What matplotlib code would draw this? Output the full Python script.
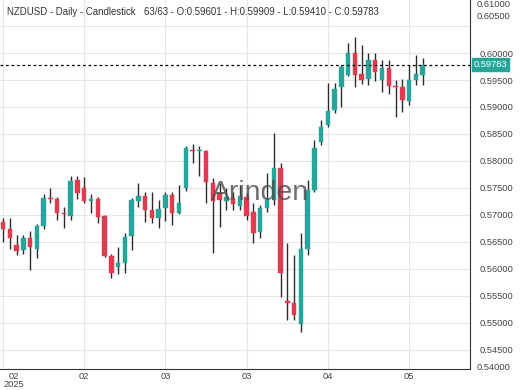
import matplotlib
matplotlib.use("Agg")
import matplotlib.pyplot as plt
import matplotlib.transforms as mtransforms
import numpy as np

plt.rcParams['font.family'] = ['Liberation Sans', 'DejaVu Sans']

opens = [0.56876, 0.56735, 0.56444, 0.56352, 0.56569, 0.56376, 0.56796, 0.57320, 0.57302, 0.57043,
         0.56982, 0.57639, 0.57495, 0.57265, 0.57296, 0.56976, 0.56241, 0.56043, 0.56117, 0.56611,
         0.57265, 0.57357, 0.57087, 0.56939, 0.57124, 0.57370, 0.57032, 0.57495, 0.58204, 0.58180,
         0.58191, 0.57598, 0.57413, 0.57265, 0.57309, 0.57167, 0.57328, 0.57061, 0.56691, 0.57124,
         0.57278, 0.57865, 0.55413, 0.55365, 0.54981, 0.56365, 0.57463, 0.58357, 0.58667, 0.58944,
         0.59365, 0.59593, 0.60006, 0.59606, 0.59513, 0.59870, 0.59500, 0.59717, 0.59376, 0.59365,
         0.59117, 0.59500, 0.59601]
highs = [0.56944, 0.56939, 0.56630, 0.56630, 0.56709, 0.56833, 0.57389, 0.57495, 0.57339, 0.57154,
         0.57722, 0.57717, 0.57709, 0.57389, 0.57339, 0.57000, 0.56278, 0.56413, 0.56661, 0.57309,
         0.57598, 0.57432, 0.57432, 0.57278, 0.57432, 0.57432, 0.57556, 0.58278, 0.58315, 0.58278,
         0.58204, 0.57685, 0.57593, 0.57495, 0.57432, 0.57556, 0.57402, 0.57217, 0.57185, 0.57783,
         0.58524, 0.57957, 0.56476, 0.56259, 0.56672, 0.57648, 0.58389, 0.58759, 0.59439, 0.59439,
         0.59778, 0.60191, 0.60291, 0.60148, 0.60006, 0.60006, 0.59870, 0.59870, 0.59500, 0.59513,
         0.59778, 0.59963, 0.59909]
lows = [0.56506, 0.56365, 0.56259, 0.56278, 0.55981, 0.56198, 0.56735, 0.57217, 0.56908, 0.56754,
        0.56908, 0.57291, 0.57217, 0.57032, 0.56846, 0.56217, 0.55828, 0.55907, 0.55931, 0.56352,
        0.57143, 0.56876, 0.56846, 0.56754, 0.56895, 0.56815, 0.57019, 0.57450, 0.57957, 0.57722,
        0.57217, 0.56291, 0.56772, 0.57093, 0.57093, 0.57093, 0.56908, 0.56476, 0.56569, 0.57061,
        0.57185, 0.55487, 0.55056, 0.55056, 0.54839, 0.56259, 0.57432, 0.58296, 0.58635, 0.58894,
        0.58994, 0.59574, 0.59365, 0.59420, 0.59407, 0.59487, 0.59272, 0.59241, 0.58809, 0.58913,
        0.59037, 0.59407, 0.59410]
closes = [0.56735, 0.56569, 0.56339, 0.56569, 0.56413, 0.56796, 0.57309, 0.57302, 0.57043, 0.57013,
          0.57635, 0.57402, 0.57259, 0.57296, 0.56957, 0.56241, 0.55920, 0.56117, 0.56598, 0.57278,
          0.57352, 0.57093, 0.56939, 0.57117, 0.57370, 0.57032, 0.57228, 0.58235, 0.58185, 0.58191,
          0.57606, 0.57265, 0.57278, 0.57339, 0.57198, 0.57352, 0.56982, 0.56672, 0.57124, 0.57278,
          0.57865, 0.55931, 0.55365, 0.55148, 0.56365, 0.57463, 0.58235, 0.58635, 0.58931, 0.59328,
          0.59746, 0.60006, 0.59593, 0.59500, 0.59870, 0.59643, 0.59717, 0.59389, 0.59365, 0.59130,
          0.59500, 0.59606, 0.59783]

x_tick_idx = [0, 12, 24, 36, 48, 60]
x_tick_labels = ["02\n2025", "02", "03", "03", "04", "05"]
y_ticks = [0.545, 0.550, 0.555, 0.560, 0.565, 0.570, 0.575, 0.580, 0.585, 0.590, 0.595, 0.600]

title_left = "NZDUSD - Daily - Candlestick"
title_right = "63/63 - O:0.59601 - H:0.59909 - L:0.59410 - C:0.59783"

GREEN = '#26a69a'
RED = '#e5394d'
WICK = '#2b2b2b'

fig = plt.figure(figsize=(5.2, 3.9), dpi=100)
ax = fig.add_axes([0.0, 21/390, 470/520, 369/390])

o = np.array(opens); h = np.array(highs); l = np.array(lows); c = np.array(closes)
x = np.arange(len(o))
up = c >= o
colors = np.where(up, GREEN, RED)

ax.vlines(x, l, h, color=WICK, linewidth=1.0, zorder=2)
bottoms = np.minimum(o, c)
heights = np.maximum(np.abs(c - o), 0.00018)
ax.bar(x, heights, bottom=bottoms, width=0.66, color=colors, edgecolor=colors, linewidth=0.3, zorder=3)

ax.set_xlim(-0.45, 69.0)
ax.set_ylim(0.541481, 0.609815)

# grid
for yv in y_ticks + [0.605]:
    ax.axhline(yv, color='#e6e6e6', linewidth=0.8, zorder=0)
for xi in x_tick_idx:
    ax.axvline(xi, color='#e6e6e6', linewidth=0.8, zorder=0)

# last price dashed line
ax.axhline(closes[-1], color='black', linestyle=(0, (2.2, 2.2)), linewidth=0.9, zorder=4)

ax.spines['top'].set_visible(False)
ax.spines['left'].set_visible(False)
ax.spines['right'].set_color('#333333')
ax.spines['bottom'].set_color('#333333')

ax.yaxis.tick_right()
ax.set_yticks(y_ticks)
ax.set_yticklabels([f"{v:.5f}" for v in y_ticks])
ax.tick_params(axis='y', length=0, pad=7, labelsize=6.7, labelcolor='#444444')
ax.set_xticks(x_tick_idx)
ax.set_xticklabels(x_tick_labels)
ax.tick_params(axis='x', length=0, pad=2, labelsize=6.7, labelcolor='#444444')
first = ax.get_xticklabels()[0]
first.set_horizontalalignment('left')
first.set_multialignment('center')
for lab in ax.get_xticklabels():
    lab.set_linespacing(0.9)

# edge-clamped labels
trans = mtransforms.blended_transform_factory(ax.transAxes, ax.transAxes)
ax.text(1.0 + 7/470, 1 - 4.5/369, "0.61000", transform=trans, ha='left', va='center', fontsize=6.7,
        color='#444444', clip_on=False)
ax.text(1.0 + 7/470, 1 - 16.2/369, "0.60500", transform=trans, ha='left', va='center', fontsize=6.7,
        color='#444444', clip_on=False)
ax.text(1.0 + 7/470, 2/369, "0.54000", transform=trans, ha='left', va='center', fontsize=6.7,
        color='#444444', clip_on=False)

# last price box
tb = mtransforms.blended_transform_factory(ax.transAxes, ax.transData)
ax.text(1.0 + 4/470, closes[-1], f"{closes[-1]:.5f}", transform=tb, ha='left', va='center',
        fontsize=6.7, color='white', clip_on=False, zorder=6,
        bbox=dict(boxstyle='square,pad=0.2', facecolor=GREEN, edgecolor=GREEN))

fig.text(7/520, 1 - 12/390, title_left, ha='left', va='center', fontsize=6.9, color='#333333')
fig.text(144/520, 1 - 12/390, title_right, ha='left', va='center', fontsize=6.9, color='#333333')

fig.text(0.5, 1 - 193/390, "Arinden", ha='center', va='center', fontsize=20.5, color='#4a4a4a',
         alpha=0.8, zorder=10)

fig.savefig("out.png", dpi=100)
